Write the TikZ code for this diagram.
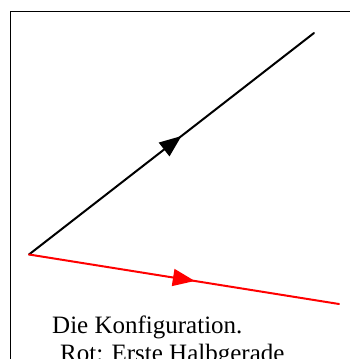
\documentclass[tikz,border=0pt]{standalone}
\usepackage{fontspec}
\setmainfont{Liberation Serif}
\usetikzlibrary{arrows.meta}
\usetikzlibrary{decorations.markings}

\begin{document}
\begin{tikzpicture}[x=1pt,y=-1pt,
    halfray/.style={line width=2pt,line cap=round,
      postaction={decorate},
      decoration={markings,
        mark=at position 0.535 with {\arrow{Triangle[length=22pt,width=17pt]}}}},
    caption/.style={anchor=base west,inner sep=0pt,
      font=\fontsize{25}{28}\selectfont}]
    % Rahmen und Ausschnitt
    \useasboundingbox (0,0) rectangle (350,359);
    \clip (0,0) rectangle (350,359);
    \draw[line width=1.5pt] (10.5,365) -- (10.5,11.5) -- (355,11.5);

    % Scheitel und Endpunkte
    \coordinate (V) at (29,254.5);
    \coordinate (B) at (314,33);
    \coordinate (R) at (339,304);

    % Halbgeraden
    \draw[halfray,black] (V) -- (B);
    \draw[halfray,red] (V) -- (R);

    % Beschriftung
    \node[caption] (konf) at (52,333) {Die Konfiguration.};
    \node[caption] (rot) at (60,361) {Rot: Erste Halbgerade};
\end{tikzpicture}
\end{document}
